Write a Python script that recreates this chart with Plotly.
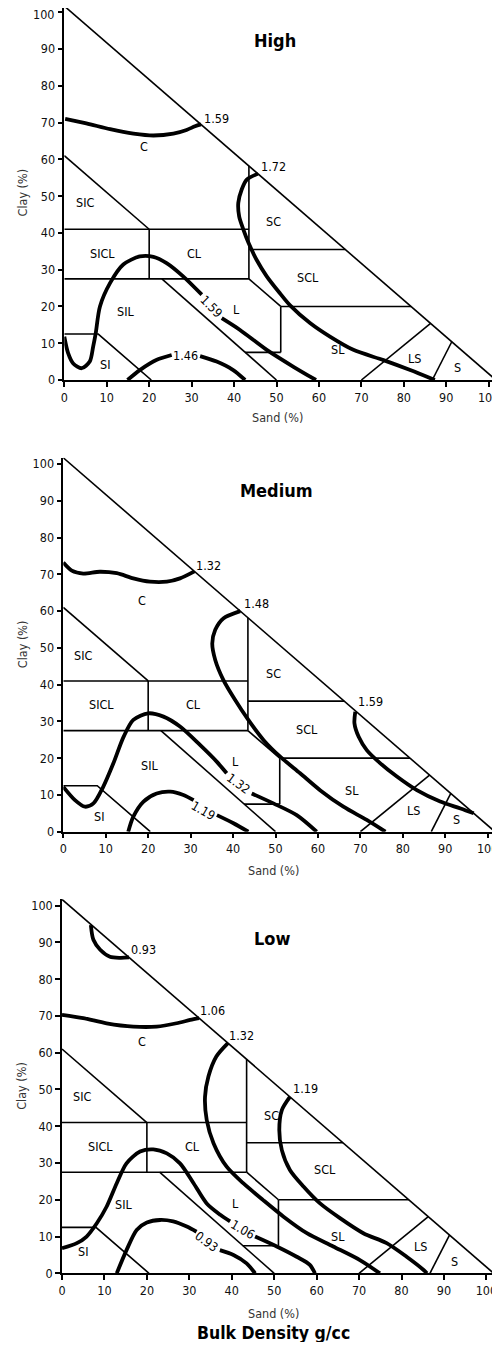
import plotly.graph_objects as go

# the page body keeps an 8px default margin; keep the page inside 500x1350
PAGE_OFF = 8
W, H = 492, 1334

# ---------------- data ----------------
tick_vals = [0, 10, 20, 30, 40, 50, 60, 70, 80, 90, 100]
tick_text = ["0", "10", "20", "30", "40", "50", "60", "70", "80", "90", "100"]
edge = 101.7  # triangle leg length (sand + clay at hypotenuse)

panel_titles = ["High", "Medium", "Low"]

# texture-class boundary polylines (sand %, clay %)
boundary_sand = [[0, 101.7], [0, 20], [0, 43.5], [20, 20], [0, 43.5], [43.5, 43.5],
                 [43.5, 66.2], [43.5, 51], [51, 81.7], [51, 51], [42.6, 51], [23, 50],
                 [0, 8, 20.5], [70, 86.3], [86.7, 91.3]]
boundary_clay = [[101.7, 0], [61, 41], [41, 41], [41, 27.5], [27.5, 27.5], [27.5, 58.2],
                 [35.5, 35.5], [27.5, 20], [20, 20], [20, 7.5], [7.5, 7.5], [27.5, 0],
                 [12.5, 12.5, 0], [0, 15.4], [0, 10.4]]

class_names = ["C", "SIC", "SICL", "CL", "SC", "SCL", "L", "SIL", "SI", "SL", "LS", "S"]
high_label_sand = [18.8, 4.9, 9.0, 30.6, 49.4, 57.5, 40.6, 14.5, 9.6, 64.6, 82.6, 92.6]
high_label_clay = [63.6, 48.2, 34.4, 34.4, 43.2, 28.0, 19.1, 18.5, 4.1, 8.2, 5.9, 3.5]
medium_label_sand = [18.6, 4.6, 8.9, 30.7, 49.5, 57.5, 40.6, 20.3, 8.5, 68.0, 82.4, 92.6]
medium_label_clay = [63.0, 48.0, 34.5, 34.5, 42.9, 27.8, 19.0, 17.9, 4.1, 11.2, 5.7, 3.4]
low_label_sand = [18.8, 4.6, 9.1, 30.7, 49.4, 62.0, 40.8, 14.6, 4.9, 65.1, 84.5, 92.6]
low_label_clay = [63.0, 48.1, 34.5, 34.5, 42.8, 28.3, 19.0, 18.6, 5.9, 10.0, 7.4, 3.2]

# ---- bulk-density isolines, High ----
high_c1_sand = [0.2, 5.2, 10.8, 16.3, 21.0, 25.7, 28.8, 30.8, 32.2]
high_c1_clay = [71.0, 69.8, 68.2, 67.0, 66.5, 67.0, 68.0, 69.0, 69.5]
high_c2_sand = [45.6, 43.0, 41.8, 41.0, 41.2, 42.2, 43.4, 45.3, 47.7, 50.8, 53.2, 57.9, 62.6, 68.1, 75.2, 81.5, 87.3]
high_c2_clay = [56.1, 54.5, 51.8, 48.2, 44.5, 40.9, 37.3, 32.7, 28.2, 23.6, 20.3, 15.5, 11.8, 8.2, 5.4, 2.7, 0.0]
high_c3a_sand = [0.0, 0.9, 2.1, 4.1, 6.0, 6.8, 7.4, 8.4, 10.8, 13.9, 17.8, 21.0, 24.1, 28.0, 32.4]
high_c3a_clay = [11.8, 7.3, 4.5, 3.2, 5.0, 9.1, 12.7, 20.0, 26.4, 31.4, 33.6, 33.5, 31.8, 28.2, 23.2]
high_c3b_sand = [37.1, 41.4, 47.7, 54.0, 59.3]
high_c3b_clay = [16.8, 13.6, 8.2, 3.6, 0.0]
high_c4a_sand = [14.9, 17.8, 21.8, 25.3]
high_c4a_clay = [0.0, 2.7, 5.5, 6.8]
high_c4b_sand = [32.0, 35.9, 39.8, 42.6]
high_c4b_clay = [6.5, 5.0, 2.7, 0.0]
high_iso_text = ["1.59", "1.72", "1.59", "1.46"]
high_iso_sand = [35.9, 49.3, 34.7, 28.6]
high_iso_clay = [71.2, 58.0, 20.0, 6.6]
high_iso_angle = [0, 0, 45, 0]

# ---- Medium ----
med_c1_sand = [0.0, 2.0, 4.7, 8.6, 12.6, 16.5, 20.4, 24.4, 27.5, 30.9]
med_c1_clay = [73.2, 71.0, 70.2, 70.7, 70.3, 68.9, 68.0, 68.0, 68.9, 70.8]
med_c2_sand = [41.7, 37.7, 35.8, 35.1, 35.8, 37.7, 40.5, 43.6, 47.2, 51.1, 55.8, 60.5, 66.0, 71.5, 75.9]
med_c2_clay = [60.0, 58.0, 54.9, 51.2, 46.7, 41.3, 35.8, 30.4, 24.9, 20.4, 15.9, 11.3, 6.8, 3.2, 0.0]
med_c3_sand = [68.8, 68.6, 69.6, 71.5, 74.7, 78.6, 83.3, 88.8, 93.6, 96.7]
med_c3_clay = [32.6, 29.5, 25.8, 22.2, 18.6, 15.0, 11.3, 8.2, 6.3, 5.0]
med_c4a_sand = [0.0, 2.75, 5.1, 7.1, 9.4, 11.8, 14.2, 16.5, 20.0, 23.6, 27.5, 32.2, 36.2, 38.5]
med_c4a_clay = [12.2, 8.6, 6.8, 7.7, 12.2, 18.6, 25.8, 30.4, 32.2, 31.3, 28.6, 23.6, 19.0, 15.9]
med_c4b_sand = [44.4, 49.5, 55.0, 59.7]
med_c4b_clay = [10.4, 7.7, 4.5, 0.0]
med_c5a_sand = [15.3, 16.5, 18.9, 22.0, 25.2, 28.3, 30.7]
med_c5a_clay = [0.0, 4.1, 8.2, 10.4, 10.9, 10.0, 8.6]
med_c5b_sand = [36.2, 40.1, 43.6]
med_c5b_clay = [4.5, 2.3, 0.0]
med_iso_text = ["1.32", "1.48", "1.59", "1.32", "1.19"]
med_iso_sand = [34.2, 45.6, 72.3, 41.3, 33.0]
med_iso_clay = [72.5, 62.1, 35.4, 13.1, 5.9]
med_iso_angle = [0, 0, 0, 36, 30]

# ---- Low ----
low_c1_sand = [6.8, 7.4, 9.0, 11.3, 13.7, 15.8]
low_c1_clay = [94.7, 90.7, 88.0, 86.1, 85.8, 85.9]
low_c2_sand = [0.0, 5.0, 10.5, 16.8, 22.3, 27.0, 30.2, 32.3]
low_c2_clay = [70.3, 69.4, 68.0, 67.1, 67.1, 68.0, 68.9, 69.4]
low_c3_sand = [39.1, 36.4, 34.5, 33.7, 34.1, 35.7, 38.8, 42.7, 47.4, 52.2, 57.7, 63.9, 70.2, 74.9]
low_c3_clay = [62.6, 59.0, 53.5, 48.0, 41.7, 35.4, 29.0, 24.5, 19.9, 15.4, 10.9, 7.3, 3.6, 0.0]
low_c4_sand = [53.7, 51.8, 51.2, 51.8, 53.7, 56.9, 60.8, 65.5, 71.0, 76.5, 81.2, 85.2, 86.0]
low_c4_clay = [48.0, 44.4, 39.0, 33.5, 28.1, 23.6, 19.0, 15.0, 10.9, 8.2, 4.5, 0.9, 0.0]
low_c5a_sand = [0.0, 3.5, 5.8, 8.2, 10.5, 12.9, 15.2, 18.4, 21.5, 24.7, 27.8, 31.0, 34.1, 37.3, 39.6]
low_c5a_clay = [6.8, 8.2, 10.0, 13.6, 18.1, 24.5, 29.9, 33.1, 33.7, 32.6, 29.9, 24.5, 19.0, 15.9, 14.1]
low_c5b_sand = [45.5, 50.6, 55.3, 58.4, 59.6]
low_c5b_clay = [10.0, 7.3, 4.5, 2.3, 0.0]
low_c6a_sand = [12.9, 15.2, 17.6, 20.0, 23.1, 26.2, 29.4, 31.7]
low_c6a_clay = [0.0, 6.3, 11.8, 13.8, 14.5, 14.1, 12.7, 11.3]
low_c6b_sand = [37.2, 40.4, 43.5, 45.5]
low_c6b_clay = [6.3, 5.0, 2.7, 0.0]
low_iso_text = ["0.93", "1.06", "1.32", "1.19", "1.06", "0.93"]
low_iso_sand = [19.3, 35.4, 42.3, 57.3, 42.6, 34.1]
low_iso_clay = [88.0, 71.6, 64.6, 50.3, 11.8, 8.6]
low_iso_angle = [0, 0, 0, 0, 30, 36]

# ---------------- fonts ----------------
FONT = "DejaVu Sans Condensed, Roboto, Liberation Sans, sans-serif"

# page-pixel position of (sand 0, clay 0) of each panel, px per unit
origins = [(64.3, 380.0), (63.3, 831.7), (62.0, 1273.3)]
SX, SY = 4.244, 3.677
sand_title_px = [(277, 417), (273, 870), (273, 1313)]
title_px = [(274.5, 41), (276, 491), (272, 939)]


def fx(px):
    return (px - PAGE_OFF) / W


def fy(py):
    return 1 - (py - PAGE_OFF) / H


panels = [
    dict(curves=[(high_c1_sand, high_c1_clay), (high_c2_sand, high_c2_clay),
                 (high_c3a_sand, high_c3a_clay), (high_c3b_sand, high_c3b_clay),
                 (high_c4a_sand, high_c4a_clay), (high_c4b_sand, high_c4b_clay)],
         iso=(high_iso_text, high_iso_sand, high_iso_clay, high_iso_angle),
         lab=(high_label_sand, high_label_clay)),
    dict(curves=[(med_c1_sand, med_c1_clay), (med_c2_sand, med_c2_clay),
                 (med_c3_sand, med_c3_clay), (med_c4a_sand, med_c4a_clay),
                 (med_c4b_sand, med_c4b_clay), (med_c5a_sand, med_c5a_clay),
                 (med_c5b_sand, med_c5b_clay)],
         iso=(med_iso_text, med_iso_sand, med_iso_clay, med_iso_angle),
         lab=(medium_label_sand, medium_label_clay)),
    dict(curves=[(low_c1_sand, low_c1_clay), (low_c2_sand, low_c2_clay),
                 (low_c3_sand, low_c3_clay), (low_c4_sand, low_c4_clay),
                 (low_c5a_sand, low_c5a_clay), (low_c5b_sand, low_c5b_clay),
                 (low_c6a_sand, low_c6a_clay), (low_c6b_sand, low_c6b_clay)],
         iso=(low_iso_text, low_iso_sand, low_iso_clay, low_iso_angle),
         lab=(low_label_sand, low_label_clay)),
]

fig = go.Figure()
annotations = []
layout = {}

for i, p in enumerate(panels):
    k = "" if i == 0 else str(i + 1)
    xr, yr = "x" + k, "y" + k
    x0, y0 = origins[i]
    x_top = min(edge, (W + PAGE_OFF - x0) / SX)
    y_top = min(edge, (y0 - PAGE_OFF) / SY)
    xdom = [fx(x0), fx(x0 + x_top * SX)]
    ydom = [fy(y0), fy(y0 - y_top * SY)]
    # the topmost "100" of the first panel sits at the page edge: drawn as a nudged note
    y_ticktext = list(tick_text)
    if i == 0:
        y_ticktext[-1] = ""
        annotations.append(dict(x=fx(x0 - 8), y=fy(y0 - 100 * SY + 2.5), xref="paper",
                                yref="paper", text=tick_text[-1], showarrow=False,
                                xanchor="right", yanchor="middle",
                                font=dict(family=FONT, size=12.5, color="#111")))
    axis_common = dict(tickvals=tick_vals,
                       ticks="outside", ticklen=5, tickwidth=1.5, tickcolor="black",
                       showline=True, linewidth=1.5, linecolor="black",
                       showgrid=False, zeroline=False, automargin=False,
                       ticklabeloverflow="allow",
                       tickfont=dict(family=FONT, size=12.5, color="#111"))
    layout["xaxis" + k] = dict(domain=xdom, range=[0, x_top], anchor=yr,
                               ticktext=tick_text, **axis_common)
    layout["yaxis" + k] = dict(domain=ydom, range=[0, y_top], anchor=xr,
                               ticktext=y_ticktext, **axis_common)

    bx, by = [], []
    for s, c in zip(boundary_sand, boundary_clay):
        bx += s + [None]
        by += c + [None]
    fig.add_trace(go.Scatter(x=bx, y=by, mode="lines", xaxis=xr, yaxis=yr,
                             line=dict(color="black", width=1.6), hoverinfo="skip",
                             showlegend=False))
    for s, c in p["curves"]:
        fig.add_trace(go.Scatter(x=s, y=c, mode="lines", xaxis=xr, yaxis=yr,
                                 line=dict(color="black", width=3.8, shape="spline",
                                           smoothing=0.8),
                                 hoverinfo="skip", showlegend=False))
    t, s, c, a = p["iso"]
    for tt, ss, cc, aa in zip(t, s, c, a):
        annotations.append(dict(x=ss, y=cc, xref=xr, yref=yr, text=tt, showarrow=False,
                                textangle=aa,
                                font=dict(family=FONT, size=12.5, color="black")))
    ls, lc = p["lab"]
    for name, ss, cc in zip(class_names, ls, lc):
        annotations.append(dict(x=ss, y=cc, xref=xr, yref=yr, text=name, showarrow=False,
                                font=dict(family=FONT, size=12.5, color="black")))
    tx, ty = title_px[i]
    annotations.append(dict(x=fx(tx), y=fy(ty), xref="paper", yref="paper",
                            text="<b>" + panel_titles[i] + "</b>", showarrow=False,
                            xanchor="center", yanchor="middle",
                            font=dict(family=FONT, size=18, color="black")))
    sx_, sy_ = sand_title_px[i]
    annotations.append(dict(x=fx(sx_), y=fy(sy_), xref="paper", yref="paper",
                            text="Sand (%)", showarrow=False, xanchor="center",
                            yanchor="middle",
                            font=dict(family=FONT, size=12.5, color="#333")))
    cy = y0 - 51 * SY
    annotations.append(dict(x=fx(22), y=fy(cy), xref="paper", yref="paper",
                            text="Clay (%)", showarrow=False, textangle=-90,
                            xanchor="center", yanchor="middle",
                            font=dict(family=FONT, size=12.5, color="#333")))

annotations.append(dict(x=fx(273.3), y=fy(1333), xref="paper", yref="paper",
                        text="<b>Bulk Density g/cc</b>", showarrow=False,
                        xanchor="center", yanchor="middle",
                        font=dict(family=FONT, size=17.5, color="black")))

fig.update_layout(width=W, height=H, margin=dict(l=0, r=0, t=0, b=0),
                  paper_bgcolor="white", plot_bgcolor="white",
                  annotations=annotations, showlegend=False, **layout)

fig.write_html("out.html")
